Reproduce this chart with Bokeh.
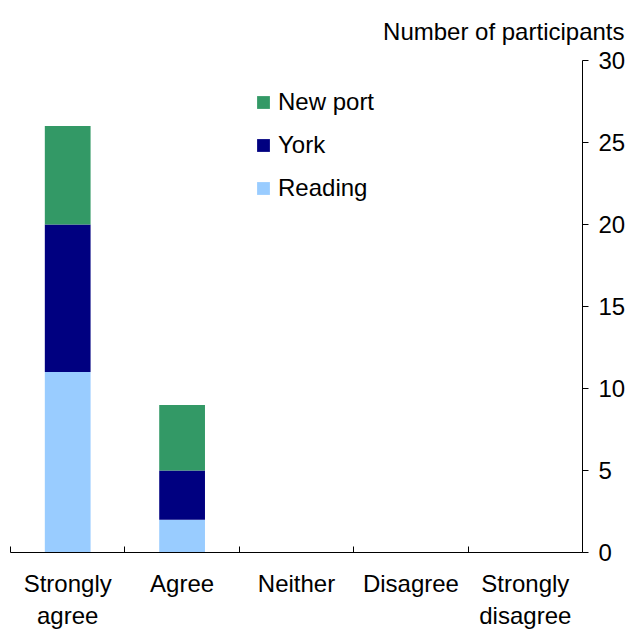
from bokeh.plotting import figure
from bokeh.models import ColumnDataSource, FixedTicker, Legend, LegendItem, Range1d
from bokeh.embed import file_html
from bokeh.resources import INLINE

categories = ["Strongly\nagree", "Agree", "Neither", "Disagree", "Strongly\ndisagree"]
reading = [11, 2, 0, 0, 0]
york = [9, 3, 0, 0, 0]
newport = [6, 4, 0, 0, 0]
series = ["reading", "york", "newport"]
series_labels = ["Reading", "York", "New port"]
colors = ["#99CCFF", "#000080", "#339966"]
y_ticks = [0, 5, 10, 15, 20, 25, 30]
y_title = "Number of participants"

FONT = "Liberation Sans"
FS = "24px"

n = len(categories)
x = [i + 0.5 for i in range(n)]
source = ColumnDataSource(dict(x=x, reading=reading, york=york, newport=newport))

p = figure(frame_width=572, frame_height=492, x_range=Range1d(0, n), y_range=Range1d(0, y_ticks[-1]),
           y_axis_location="right", output_backend="svg", toolbar_location=None,
           min_border_left=10, min_border_right=51, min_border_top=60, min_border_bottom=60)
p.background_fill_color = None
p.border_fill_color = None
p.outline_line_color = None
p.grid.visible = False

rs = p.vbar_stack(series, x="x", width=0.4, color=colors, line_color=None, source=source)

# x axis: labels at centers, small inward ticks at category boundaries
xa = p.xaxis[0]
xa.ticker = FixedTicker(ticks=x, minor_ticks=list(range(n + 1)))
xa.major_label_overrides = {xi: c for xi, c in zip(x, categories)}
xa.major_tick_in = 0
xa.major_tick_out = 0
xa.minor_tick_in = 6
xa.minor_tick_out = 0
xa.minor_tick_line_color = "black"
xa.axis_line_color = "black"
xa.major_label_text_font = FONT
xa.major_label_text_font_size = FS
xa.major_label_text_color = "black"
xa.major_label_standoff = 17

ya = p.yaxis[0]
ya.ticker = FixedTicker(ticks=y_ticks, minor_ticks=[])
ya.major_tick_in = 0
ya.major_tick_out = 6
ya.major_tick_line_color = "black"
ya.axis_line_color = "black"
ya.major_label_text_font = FONT
ya.major_label_text_font_size = FS
ya.major_label_text_color = "black"
ya.major_label_standoff = 10

p.title.text = y_title
p.title.align = "right"
p.title.offset = -42
p.title.text_font = FONT
p.title.text_font_size = FS
p.title.text_font_style = "normal"
p.title.text_color = "black"
p.title.standoff = 31

items = [LegendItem(label=lab, renderers=[r]) for lab, r in zip(series_labels, rs)][::-1]
legend = Legend(items=items, location=(245, 350), padding=0, margin=0,
                glyph_width=16, glyph_height=16, label_standoff=7, spacing=15,
                label_text_font=FONT, label_text_font_size=FS, label_text_color="black",
                border_line_color=None, background_fill_color=None)
p.add_layout(legend, "center")

open("out.html", "w").write(file_html(p, INLINE))
